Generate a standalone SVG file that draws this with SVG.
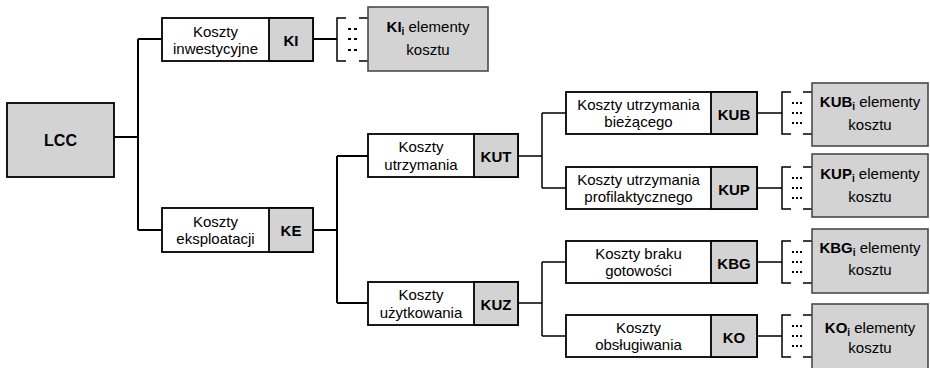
<svg xmlns="http://www.w3.org/2000/svg" width="930" height="368" viewBox="0 0 930 368">
<style>
text{font-family:"Liberation Sans",Arial,sans-serif;font-size:15px;fill:#000;text-anchor:middle}
.b{font-weight:bold}
.w{fill:#fff;stroke:#000;stroke-width:1.8}
.g{fill:#d3d3d3;stroke:#000;stroke-width:1.8}
.e{fill:#d3d3d3;stroke:#4a4a4a;stroke-width:1.6}
.c{fill:none;stroke:#000;stroke-width:2}
.t{fill:none;stroke:#000;stroke-width:1.5}
.d{fill:none;stroke:#000;stroke-width:2;stroke-dasharray:2 2}
.sub{font-size:10px}
</style>
<g id="connectors">
<path class="c" d="M114,137H138M138,39V230M138,39H162M138,230H162"/>
<path class="c" d="M313,39H337"/>
<path class="c" d="M313,230H337M337,156V303M337,156H368M337,303H368"/>
<path class="t" d="M518,156H542M542,113V188M542,113H566M542,188H566"/>
<path class="t" d="M518,303H542M542,262V336M542,262H566M542,336H566"/>
<path class="t" d="M757,113H782M757,188H782M757,262H782M757,336H782"/>
</g>
<g id="LCC"><rect class="g" x="7" y="103" width="107" height="74"/><text class="b" x="60.5" y="146" style="font-size:16px">LCC</text></g>
<g id="KI">
<rect class="w" x="162" y="18" width="151" height="43"/><rect class="g" x="269" y="18" width="44" height="43"/>
<text x="215.5" y="37">Koszty</text><text x="215.5" y="54">inwestycyjne</text><text class="b" x="291" y="45.5">KI</text>
</g>
<g id="KE">
<rect class="w" x="162" y="208" width="151" height="44"/><rect class="g" x="269" y="208" width="44" height="44"/>
<text x="215.5" y="227">Koszty</text><text x="215.5" y="244">eksploatacji</text><text class="b" x="291" y="235.5">KE</text>
</g>
<g id="KUT">
<rect class="w" x="368" y="134" width="150" height="43"/><rect class="g" x="474" y="134" width="44" height="43"/>
<text x="421" y="152">Koszty</text><text x="421" y="169.5">utrzymania</text><text class="b" x="496" y="161.5">KUT</text>
</g>
<g id="KUZ">
<rect class="w" x="368" y="282" width="150" height="43"/><rect class="g" x="474" y="282" width="44" height="43"/>
<text x="421" y="300">Koszty</text><text x="421" y="317.5">użytkowania</text><text class="b" x="496" y="309.5">KUZ</text>
</g>
<g id="KUB">
<rect class="w" x="566" y="92" width="191" height="42"/><rect class="g" x="711" y="92" width="46" height="42"/>
<text x="638.5" y="109.5">Koszty utrzymania</text><text x="638.5" y="127">bieżącego</text><text class="b" x="734" y="120">KUB</text>
</g>
<g id="KUP">
<rect class="w" x="566" y="167" width="191" height="42"/><rect class="g" x="711" y="167" width="46" height="42"/>
<text x="638.5" y="184.5">Koszty utrzymania</text><text x="638.5" y="202">profilaktycznego</text><text class="b" x="734" y="195">KUP</text>
</g>
<g id="KBG">
<rect class="w" x="566" y="241" width="191" height="42"/><rect class="g" x="711" y="241" width="46" height="42"/>
<text x="638.5" y="258.5">Koszty braku</text><text x="638.5" y="276">gotowości</text><text class="b" x="734" y="269">KBG</text>
</g>
<g id="KO">
<rect class="w" x="566" y="315" width="191" height="42"/><rect class="g" x="711" y="315" width="46" height="42"/>
<text x="638.5" y="332.5">Koszty</text><text x="638.5" y="350">obsługiwania</text><text class="b" x="734" y="343">KO</text>
</g>
<g id="KI-elements">
<path class="t" d="M346,18H337V61H346M359,18H368M359,61H368"/>
<path class="d" d="M348,29H357M348,39H357M348,50H357" style="stroke-dasharray:3 3"/>
<rect class="e" x="368" y="7" width="120" height="64"/>
<text x="428" y="32"><tspan class="b">KI</tspan><tspan class="b sub" dy="3">i</tspan><tspan dy="-3"> elementy</tspan></text>
<text x="428" y="55">kosztu</text>
</g>
<g id="KUB-elements">
<path class="t" d="M791,92H782V134H791M803,92H812M803,134H812"/>
<path class="d" d="M792,103H802M792,113H802M792,123H802"/>
<rect class="e" x="812" y="83" width="116" height="63"/>
<text x="870" y="107"><tspan class="b">KUB</tspan><tspan class="b sub" dy="3">i</tspan><tspan dy="-3"> elementy</tspan></text>
<text x="870" y="130">kosztu</text>
</g>
<g id="KUP-elements">
<path class="t" d="M791,167H782V209H791M803,167H812M803,209H812"/>
<path class="d" d="M792,178H802M792,188H802M792,198H802"/>
<rect class="e" x="812" y="154" width="116" height="63"/>
<text x="870" y="179"><tspan class="b">KUP</tspan><tspan class="b sub" dy="3">i</tspan><tspan dy="-3"> elementy</tspan></text>
<text x="870" y="202">kosztu</text>
</g>
<g id="KBG-elements">
<path class="t" d="M791,241H782V283H791M803,241H812M803,283H812"/>
<path class="d" d="M792,252H802M792,262H802M792,272H802"/>
<rect class="e" x="812" y="229" width="116" height="64"/>
<text x="870" y="253"><tspan class="b">KBG</tspan><tspan class="b sub" dy="3">i</tspan><tspan dy="-3"> elementy</tspan></text>
<text x="870" y="275">kosztu</text>
</g>
<g id="KO-elements">
<path class="t" d="M791,315H782V357H791M803,315H812M803,357H812"/>
<path class="d" d="M792,326H802M792,336H802M792,346H802"/>
<rect class="e" x="812" y="304" width="116" height="70"/>
<text x="870" y="333"><tspan class="b">KO</tspan><tspan class="b sub" dy="3">i</tspan><tspan dy="-3"> elementy</tspan></text>
<text x="870" y="353">kosztu</text>
</g>
</svg>
